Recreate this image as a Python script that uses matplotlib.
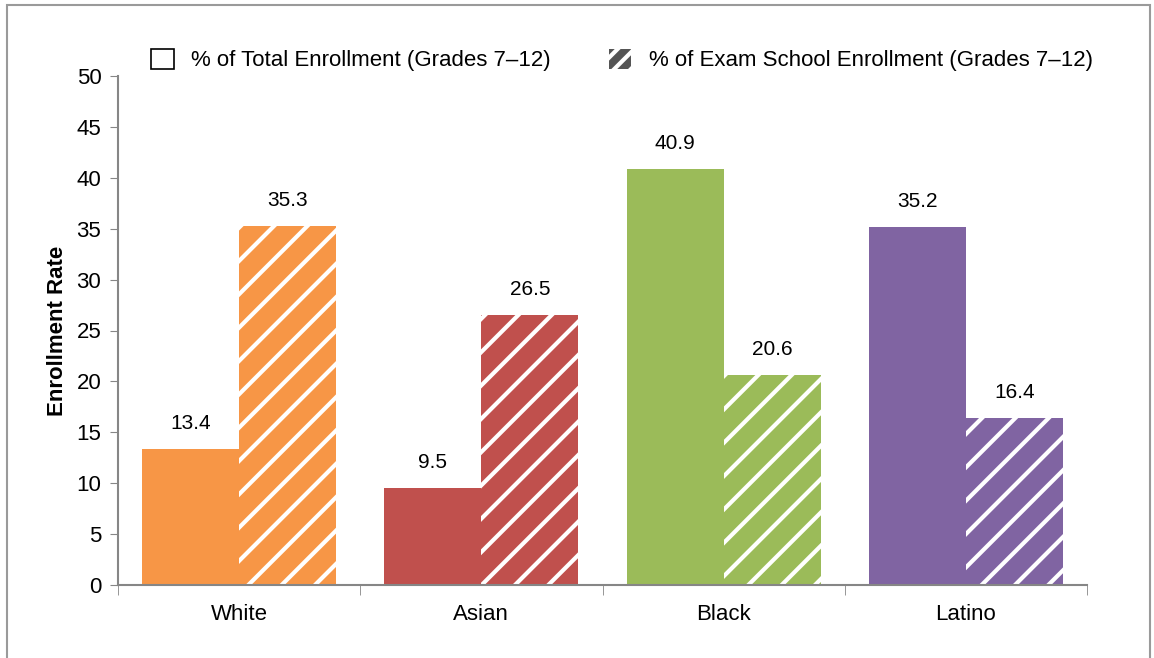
import matplotlib.pyplot as plt
import numpy as np
from matplotlib.patches import Patch, Rectangle

plt.rcParams['font.family'] = ['Liberation Sans Narrow', 'Liberation Sans', 'DejaVu Sans']
plt.rcParams['hatch.linewidth'] = 3.0

# 데이터
groups = ['White', 'Asian', 'Black', 'Latino']
total_enroll = [13.4, 9.5, 40.9, 35.2]
exam_enroll = [35.3, 26.5, 20.6, 16.4]
colors = ['#F79646', '#C0504D', '#9BBB59', '#8064A2']
legend_labels = ['% of Total Enrollment (Grades 7\u201312)',
                 '% of Exam School Enrollment (Grades 7\u201312)']

fig = plt.figure(figsize=(11.54, 6.58), dpi=100)
ax = fig.add_axes([118 / 1154, 1 - 585 / 658, 969 / 1154, 509 / 658])

x = np.arange(len(groups))
w = 0.4
ax.bar(x - w / 2, total_enroll, w, color=colors, linewidth=0)
ax.bar(x + w / 2, exam_enroll, w, color=colors, edgecolor='white',
       hatch='/', linewidth=0)

for i in range(len(groups)):
    ax.text(x[i] - w / 2, total_enroll[i] + 2.5, f'{total_enroll[i]:.1f}',
            ha='center', va='center', fontsize=15)
    ax.text(x[i] + w / 2, exam_enroll[i] + 2.5, f'{exam_enroll[i]:.1f}',
            ha='center', va='center', fontsize=15)

ax.set_xlim(-0.5, 3.5)
ax.set_ylim(0, 50)
ax.set_yticks(range(0, 51, 5))
ax.set_xticks(x)
ax.set_xticklabels(groups)
ax.set_xticks(np.arange(-0.5, 3.6, 1), minor=True)
ax.tick_params(axis='x', which='major', length=0, pad=14, labelsize=16)
ax.tick_params(axis='x', which='minor', length=7, color='#868686', direction='out')
ax.tick_params(axis='y', length=6, color='#868686', labelsize=16, pad=6)
for s in ['top', 'right']:
    ax.spines[s].set_visible(False)
for s in ['left', 'bottom']:
    ax.spines[s].set_color('#868686')
    ax.spines[s].set_linewidth(1.5)
ax.set_ylabel('Enrollment Rate', fontsize=16, fontweight='bold', labelpad=6)

# 범례
handles = [Patch(facecolor='white', edgecolor='black', linewidth=1.2),
           Patch(facecolor='#555555', edgecolor='white', hatch='//', linewidth=0)]
fig.legend(handles, legend_labels, loc='center', ncol=2, frameon=False,
           bbox_to_anchor=(622 / 1154, 1 - 60 / 658), fontsize=16,
           handlelength=1.0, handleheight=1.0, columnspacing=2.6, handletextpad=0.8)

# 테두리
fig.patches.append(Rectangle((7 / 1154, -0.01), 1143 / 1154, 1 - 5 / 658 + 0.01,
                             transform=fig.transFigure, fill=False,
                             edgecolor='#9a9a9a', linewidth=1.5))

fig.savefig('out.png', dpi=100)
